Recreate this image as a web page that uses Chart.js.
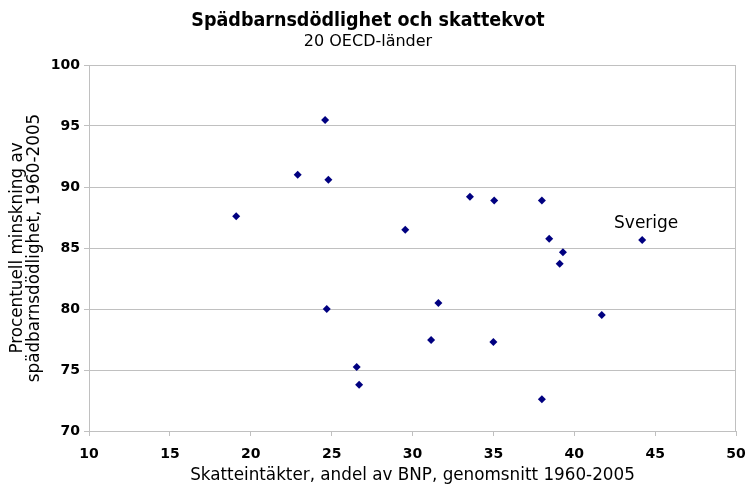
<!DOCTYPE html>
<html>
<head>
<meta charset="utf-8">
<script src="https://cdn.jsdelivr.net/npm/chart.js@4.4.0/dist/chart.umd.min.js"></script>
<style>
    html, body { margin: 0; padding: 0; background: #fff; }
    #wrap { width: 749px; height: 486px; }
</style>
</head>
<body>
<div id="wrap"><canvas id="chart"></canvas></div>
<script>
// data
const skattekvot = [19.1, 22.9, 24.6, 24.8, 24.7, 26.55, 26.7, 29.55, 31.15, 31.6,
                    33.55, 35.05, 35.0, 38.0, 38.0, 38.45, 39.3, 39.1, 41.7, 44.2]
const minskning = [87.6, 91.0, 95.5, 90.6, 80.0, 75.25, 73.8, 86.5, 77.45, 80.5,
                   89.2, 88.9, 77.3, 88.9, 72.6, 85.75, 84.65, 83.7, 79.5, 85.65]
const labels = ["", "", "", "", "", "", "", "", "", "",
                "", "", "", "", "", "", "", "", "", "Sverige"]

const X_MIN = 10, X_MAX = 50, X_STEP = 5
const Y_MIN = 70, Y_MAX = 100, Y_STEP = 5

const FONT = "'DejaVu Sans', Verdana, sans-serif"
const TITLE_FONT = "'DejaVu Sans Condensed', 'Liberation Sans', sans-serif"
const GRID = '#c0c0c0'
const MARK = '#000080'

var points = []
for (var i = 0; i < skattekvot.length; i ++) {
    points.push({ x: skattekvot[i], y: minskning[i], label: labels[i] })
}

// frame round the plot area (top and right side)
const frame = {
    id: 'frame',
    beforeDatasetsDraw(chart) {
        const a = chart.chartArea
        const ctx = chart.ctx
        ctx.save()
        ctx.strokeStyle = GRID
        ctx.lineWidth = 1
        ctx.beginPath()
        ctx.moveTo(a.left, a.top + 0.5)
        ctx.lineTo(a.right - 0.5, a.top + 0.5)
        ctx.lineTo(a.right - 0.5, a.bottom)
        ctx.stroke()
        ctx.restore()
    }
}

// point labels (only Sverige has one)
const pointLabels = {
    id: 'pointLabels',
    afterDatasetsDraw(chart) {
        const ctx = chart.ctx
        const xs = chart.scales.x, ys = chart.scales.y
        ctx.save()
        ctx.font = "17px " + FONT
        ctx.fillStyle = '#000'
        ctx.textAlign = 'center'
        ctx.textBaseline = 'middle'
        for (const p of points) {
            if (!p.label) continue
            ctx.fillText(p.label, xs.getPixelForValue(p.x) + 4, ys.getPixelForValue(p.y) - 16)
        }
        ctx.restore()
    }
}

const config = {
    type: 'scatter',
    data: {
        datasets: [{
            data: points,
            pointStyle: 'rectRot',
            radius: 4,
            hoverRadius: 4,
            backgroundColor: MARK,
            borderColor: MARK,
            borderWidth: 0
        }]
    },
    options: {
        responsive: true,
        maintainAspectRatio: false,
        animation: false,
        layout: { padding: { left: 0, right: 13, top: 0, bottom: 0 } },
        plugins: {
            legend: { display: false },
            tooltip: { enabled: false },
            title: {
                display: true,
                text: 'Spädbarnsdödlighet och skattekvot',
                color: '#000',
                font: { family: TITLE_FONT, size: 19.5, weight: 'bold' },
                padding: { top: 9, bottom: 0 }
            },
            subtitle: {
                display: true,
                text: '20 OECD-länder',
                color: '#000',
                font: { family: FONT, size: 16, weight: 'normal' },
                padding: { top: 0, bottom: 13.4 }
            }
        },
        scales: {
            x: {
                type: 'linear',
                min: X_MIN,
                max: X_MAX,
                afterFit: function(scale) {
                    scale.height = 55
                    // the "50" label may hang past the plot area
                    scale.paddingRight = 0
                    scale.paddingLeft = 0
                },
                ticks: {
                    stepSize: X_STEP,
                    color: '#000',
                    font: { family: FONT, size: 14, weight: 'bold' },
                    padding: 10,
                    maxRotation: 0
                },
                grid: {
                    drawOnChartArea: false,
                    drawTicks: true,
                    tickLength: 5,
                    color: GRID
                },
                border: { display: true, color: GRID },
                title: {
                    display: true,
                    text: 'Skatteintäkter, andel av BNP, genomsnitt 1960-2005',
                    color: '#000',
                    font: { family: FONT, size: 16.8, weight: 'normal' },
                    padding: { top: 0, bottom: 0 }
                }
            },
            y: {
                type: 'linear',
                min: Y_MIN,
                max: Y_MAX,
                afterFit: function(scale) { scale.width = 89 },
                ticks: {
                    stepSize: Y_STEP,
                    color: '#000',
                    font: { family: FONT, size: 14, weight: 'bold' },
                    padding: 4
                },
                grid: {
                    color: GRID,
                    drawTicks: true,
                    tickLength: 5
                },
                border: { display: true, color: GRID },
                title: {
                    display: true,
                    text: ['Procentuell minskning av', 'spädbarnsdödlighet, 1960-2005'],
                    color: '#000',
                    font: { family: FONT, size: 16.8, weight: 'normal', lineHeight: 1.0 },
                    padding: { top: 9.5, bottom: 0 }
                }
            }
        }
    },
    plugins: [frame, pointLabels]
}

const myChart = new Chart(document.getElementById('chart'), config)
</script>
</body>
</html>
